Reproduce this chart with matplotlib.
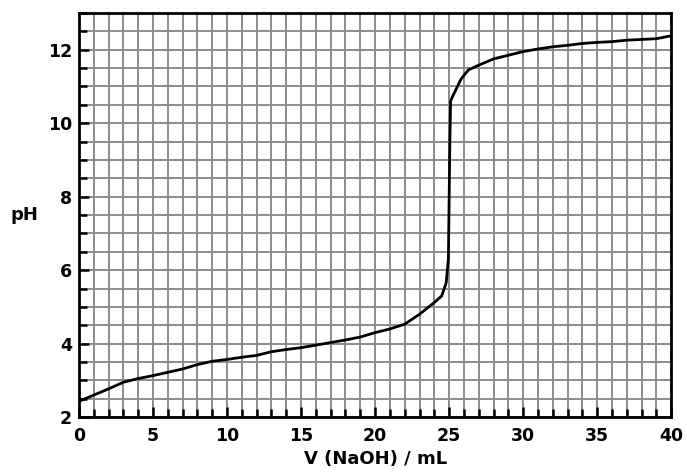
import numpy as np
import matplotlib.pyplot as plt
from matplotlib.ticker import MultipleLocator

# titration curve
volume = [0, 1, 2, 3, 4, 5, 6, 7, 8, 9, 10, 11, 12, 13, 14, 15, 16, 17, 18, 19,
          20, 21, 22, 23, 24, 24.5, 24.8, 24.95, 25.05, 25.1, 25.2, 25.5, 25.8,
          26.3, 27, 28, 29, 30, 31, 32, 33, 34, 35, 36, 37, 38, 39, 40]
ph = [2.43, 2.6, 2.77, 2.95, 3.05, 3.13, 3.22, 3.31, 3.43, 3.52, 3.57, 3.63,
      3.68, 3.78, 3.84, 3.89, 3.96, 4.03, 4.1, 4.18, 4.3, 4.4, 4.53, 4.8, 5.12,
      5.3, 5.65, 6.3, 9.5, 10.6, 10.7, 10.95, 11.2, 11.45, 11.58, 11.75, 11.85,
      11.95, 12.02, 12.08, 12.12, 12.17, 12.2, 12.22, 12.26, 12.28, 12.3, 12.38]

x_ticks = [0, 5, 10, 15, 20, 25, 30, 35, 40]
y_ticks = [2, 4, 6, 8, 10, 12]

plt.rcParams['font.family'] = 'DejaVu Sans'
plt.rcParams['font.weight'] = 'bold'

fig = plt.figure(figsize=(6.87, 4.74), dpi=100)
ax = fig.add_axes([0.115, 0.12, 0.862, 0.8526])

ax.plot(volume, ph, color='black', lw=2.0, zorder=3)

ax.set_xlim(0, 40)
ax.set_ylim(2, 13)
ax.set_xticks(x_ticks)
ax.set_yticks(y_ticks)
ax.xaxis.set_minor_locator(MultipleLocator(1))
ax.yaxis.set_minor_locator(MultipleLocator(0.5))

ax.grid(True, which='both', color='#8c8c8c', lw=1.4, zorder=0)
ax.set_axisbelow(True)

ax.tick_params(which='both', direction='in', color='black', width=1.8)
ax.tick_params(which='major', length=7, labelsize=12.5)
ax.tick_params(axis='x', which='major', pad=7)
ax.tick_params(axis='y', which='major', pad=5)
ax.tick_params(which='minor', length=6)
for lab in ax.get_xticklabels() + ax.get_yticklabels():
    lab.set_fontweight('bold')

for sp in ax.spines.values():
    sp.set_linewidth(2)
    sp.set_color('black')

ax.set_xlabel('V (NaOH) / mL', fontsize=13, fontweight='bold', labelpad=4)
ax.set_ylabel('pH', fontsize=13, fontweight='bold', rotation=0, labelpad=17,
              va='center')

fig.savefig('out.png', dpi=100)
